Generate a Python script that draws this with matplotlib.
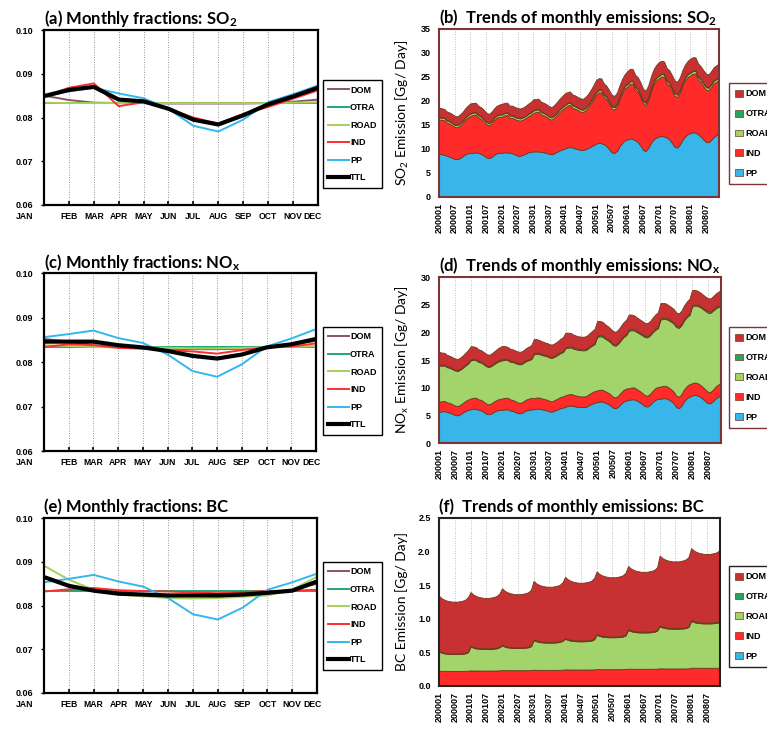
import numpy as np
import matplotlib.pyplot as plt
import matplotlib.transforms as mtrans
from matplotlib.patches import Patch

plt.rcParams['mathtext.default'] = 'regular'

# ---- data -------------------------------------------------------------
months = ['JAN', 'FEB', 'MAR', 'APR', 'MAY', 'JUN', 'JUL', 'AUG', 'SEP', 'OCT', 'NOV', 'DEC']
ym_labels = ['200001', '200007', '200101', '200107', '200201', '200207', '200301', '200307',
             '200401', '200407', '200501', '200507', '200601', '200607', '200701', '200707',
             '200801', '200807']

# monthly fractions, SO2
dom_a = [0.0850, 0.0840, 0.0834, 0.0833, 0.0833, 0.0832, 0.0832, 0.0832, 0.0832, 0.0833, 0.0836, 0.0841]
otra_a = [0.0833, 0.0833, 0.0833, 0.0833, 0.0833, 0.0833, 0.0833, 0.0833, 0.0833, 0.0833, 0.0833, 0.0833]
road_a = [0.0834, 0.0833, 0.0833, 0.0833, 0.0833, 0.0833, 0.0833, 0.0833, 0.0833, 0.0833, 0.0834, 0.0835]
ind_a = [0.0848, 0.0868, 0.0878, 0.0826, 0.0835, 0.0820, 0.0800, 0.0786, 0.0808, 0.0824, 0.0843, 0.0862]
pp_a = [0.0848, 0.0860, 0.0868, 0.0855, 0.0844, 0.0820, 0.0781, 0.0768, 0.0795, 0.0835, 0.0853, 0.0873]
ttl_a = [0.0849, 0.0863, 0.0870, 0.0841, 0.0837, 0.0820, 0.0795, 0.0784, 0.0805, 0.0830, 0.0848, 0.0868]

# monthly fractions, NOx
dom_c = [0.0852, 0.0846, 0.0838, 0.0834, 0.0832, 0.0830, 0.0829, 0.0829, 0.0830, 0.0833, 0.0839, 0.0848]
otra_c = [0.0834, 0.0834, 0.0834, 0.0834, 0.0834, 0.0834, 0.0834, 0.0834, 0.0834, 0.0834, 0.0834, 0.0834]
road_c = [0.0838, 0.0836, 0.0834, 0.0833, 0.0833, 0.0832, 0.0831, 0.0831, 0.0832, 0.0833, 0.0834, 0.0836]
ind_c = [0.0834, 0.0840, 0.0838, 0.0832, 0.0830, 0.0827, 0.0824, 0.0819, 0.0827, 0.0833, 0.0835, 0.0842]
pp_c = [0.0856, 0.0863, 0.0871, 0.0854, 0.0843, 0.0817, 0.0780, 0.0767, 0.0795, 0.0835, 0.0853, 0.0874]
ttl_c = [0.0846, 0.0846, 0.0846, 0.0838, 0.0833, 0.0825, 0.0814, 0.0808, 0.0817, 0.0833, 0.0840, 0.0852]

# monthly fractions, BC
dom_e = [0.0866, 0.0846, 0.0834, 0.0828, 0.0826, 0.0824, 0.0823, 0.0823, 0.0826, 0.0829, 0.0835, 0.0850]
otra_e = [0.0833, 0.0833, 0.0833, 0.0833, 0.0833, 0.0833, 0.0833, 0.0833, 0.0833, 0.0833, 0.0833, 0.0833]
road_e = [0.0891, 0.0859, 0.0836, 0.0825, 0.0821, 0.0817, 0.0816, 0.0817, 0.0820, 0.0823, 0.0836, 0.0866]
ind_e = [0.0832, 0.0837, 0.0840, 0.0835, 0.0833, 0.0832, 0.0830, 0.0828, 0.0831, 0.0833, 0.0834, 0.0836]
pp_e = [0.0853, 0.0861, 0.0870, 0.0855, 0.0843, 0.0817, 0.0780, 0.0768, 0.0795, 0.0836, 0.0853, 0.0873]
ttl_e = [0.0865, 0.0845, 0.0834, 0.0827, 0.0825, 0.0823, 0.0823, 0.0823, 0.0825, 0.0829, 0.0834, 0.0855]

# monthly emissions 2000-2008 [Gg/day], SO2
pp_so2 = [9.0, 8.9, 8.8, 8.6, 8.4, 8.2, 7.9, 7.9, 8.1, 8.5, 8.9, 9.1,
          9.2, 9.2, 9.3, 9.2, 9.0, 8.7, 8.3, 8.1, 8.3, 8.8, 9.1, 9.2,
          9.2, 9.3, 9.3, 9.2, 9.1, 8.9, 8.6, 8.6, 8.8, 9.0, 9.3, 9.4,
          9.5, 9.5, 9.5, 9.4, 9.3, 9.2, 9.0, 8.9, 9.1, 9.4, 9.7, 9.9,
          10.1, 10.3, 10.4, 10.3, 10.1, 10.0, 9.8, 9.8, 10.0, 10.2, 10.5, 10.8,
          11.1, 11.3, 11.2, 11.0, 10.6, 10.0, 9.3, 9.2, 9.6, 10.6, 11.3, 11.8,
          12.0, 12.2, 12.1, 11.8, 11.4, 10.7, 9.8, 9.6, 10.3, 11.3, 12.0, 12.4,
          12.6, 12.7, 12.6, 12.4, 12.0, 11.3, 10.5, 10.3, 10.9, 11.9, 12.6, 13.1,
          13.3, 13.5, 13.4, 13.1, 12.6, 12.0, 11.5, 11.4, 11.9, 12.5, 12.9, 13.2]
ind_so2 = [7.1, 7.2, 7.2, 6.9, 6.9, 6.8, 6.7, 6.6, 6.8, 6.9, 7.2, 7.5,
           7.7, 7.9, 7.9, 7.4, 7.3, 7.1, 6.9, 6.8, 7.0, 7.2, 7.4, 7.5,
           7.5, 7.7, 7.8, 7.3, 7.4, 7.3, 7.4, 7.3, 7.3, 7.4, 7.5, 7.7,
           8.0, 8.2, 8.3, 7.8, 7.7, 7.5, 7.3, 7.2, 7.4, 7.7, 8.0, 8.3,
           8.5, 8.7, 8.8, 8.3, 8.3, 8.1, 8.0, 7.9, 8.1, 8.5, 9.0, 9.6,
           10.2, 10.5, 10.6, 9.8, 9.7, 9.4, 9.1, 9.0, 9.3, 9.8, 10.4, 10.8,
           11.0, 11.4, 11.5, 10.6, 10.5, 10.1, 9.7, 9.5, 10.0, 10.8, 11.5, 11.9,
           12.1, 12.4, 12.4, 11.3, 11.2, 10.9, 10.6, 10.5, 10.8, 11.3, 11.7, 11.9,
           12.0, 12.2, 12.3, 11.4, 11.3, 11.1, 10.9, 10.8, 11.0, 11.2, 11.1, 11.2]
road_so2 = [0.46, 0.45, 0.45, 0.44, 0.44, 0.44, 0.44, 0.44, 0.44, 0.44, 0.45, 0.46,
            0.47, 0.46, 0.46, 0.45, 0.45, 0.45, 0.45, 0.45, 0.45, 0.45, 0.46, 0.47,
            0.48, 0.47, 0.47, 0.46, 0.46, 0.46, 0.46, 0.46, 0.46, 0.46, 0.47, 0.48,
            0.49, 0.48, 0.48, 0.47, 0.47, 0.47, 0.47, 0.47, 0.47, 0.47, 0.48, 0.49,
            0.50, 0.49, 0.49, 0.48, 0.48, 0.48, 0.48, 0.48, 0.48, 0.48, 0.49, 0.50,
            0.51, 0.50, 0.50, 0.49, 0.49, 0.49, 0.49, 0.49, 0.49, 0.49, 0.50, 0.51,
            0.52, 0.51, 0.51, 0.50, 0.50, 0.50, 0.50, 0.50, 0.50, 0.50, 0.51, 0.52,
            0.54, 0.53, 0.53, 0.52, 0.52, 0.52, 0.52, 0.52, 0.52, 0.52, 0.53, 0.54,
            0.56, 0.55, 0.55, 0.54, 0.54, 0.54, 0.54, 0.54, 0.54, 0.54, 0.55, 0.56]
otra_so2 = [0.08, 0.08, 0.08, 0.08, 0.08, 0.08, 0.08, 0.08, 0.08, 0.08, 0.08, 0.08,
            0.08, 0.08, 0.08, 0.08, 0.08, 0.08, 0.08, 0.08, 0.08, 0.08, 0.08, 0.08,
            0.09, 0.09, 0.09, 0.09, 0.09, 0.09, 0.09, 0.09, 0.09, 0.09, 0.09, 0.09,
            0.09, 0.09, 0.09, 0.09, 0.09, 0.09, 0.09, 0.09, 0.09, 0.09, 0.09, 0.09,
            0.10, 0.10, 0.10, 0.10, 0.10, 0.10, 0.10, 0.10, 0.10, 0.10, 0.10, 0.10,
            0.10, 0.10, 0.10, 0.10, 0.10, 0.10, 0.10, 0.10, 0.10, 0.10, 0.10, 0.10,
            0.11, 0.11, 0.11, 0.11, 0.11, 0.11, 0.11, 0.11, 0.11, 0.11, 0.11, 0.11,
            0.11, 0.11, 0.11, 0.11, 0.11, 0.11, 0.11, 0.11, 0.11, 0.11, 0.11, 0.11,
            0.12, 0.12, 0.12, 0.12, 0.12, 0.12, 0.12, 0.12, 0.12, 0.12, 0.12, 0.12]
dom_so2 = [1.95, 1.85, 1.80, 1.78, 1.78, 1.78, 1.78, 1.78, 1.78, 1.80, 1.85, 1.90,
           2.05, 1.95, 1.90, 1.88, 1.88, 1.88, 1.88, 1.88, 1.88, 1.90, 1.95, 2.00,
           2.15, 2.05, 2.00, 1.98, 1.98, 1.98, 1.98, 1.98, 1.98, 2.00, 2.05, 2.10,
           2.25, 2.15, 2.10, 2.07, 2.07, 2.07, 2.07, 2.07, 2.07, 2.10, 2.15, 2.20,
           2.35, 2.25, 2.20, 2.17, 2.17, 2.17, 2.17, 2.17, 2.17, 2.20, 2.25, 2.30,
           2.45, 2.35, 2.30, 2.27, 2.27, 2.27, 2.27, 2.27, 2.27, 2.30, 2.35, 2.40,
           2.60, 2.50, 2.45, 2.42, 2.42, 2.42, 2.42, 2.42, 2.42, 2.45, 2.50, 2.55,
           2.75, 2.65, 2.60, 2.57, 2.57, 2.57, 2.57, 2.57, 2.57, 2.60, 2.65, 2.70,
           2.85, 2.75, 2.70, 2.67, 2.67, 2.67, 2.67, 2.67, 2.67, 2.70, 2.75, 2.80]

# monthly emissions, NOx
pp_nox = [5.7, 5.7, 5.8, 5.6, 5.5, 5.3, 5.1, 5.0, 5.2, 5.5, 5.8, 6.0,
          6.1, 6.2, 6.2, 6.0, 5.9, 5.6, 5.3, 5.2, 5.4, 5.7, 5.9, 6.0,
          6.0, 6.1, 6.1, 5.9, 5.8, 5.6, 5.4, 5.4, 5.6, 5.9, 6.0, 6.1,
          6.1, 6.2, 6.2, 6.1, 6.0, 5.9, 5.7, 5.7, 5.9, 6.1, 6.3, 6.4,
          6.6, 6.7, 6.8, 6.7, 6.6, 6.5, 6.5, 6.5, 6.6, 6.9, 7.1, 7.3,
          7.4, 7.5, 7.5, 7.3, 7.1, 6.8, 6.4, 6.3, 6.6, 7.1, 7.5, 7.7,
          7.8, 7.9, 7.9, 7.7, 7.4, 7.1, 6.7, 6.6, 6.9, 7.4, 7.8, 8.0,
          8.0, 8.1, 8.1, 7.9, 7.6, 7.2, 6.5, 6.3, 6.8, 7.6, 8.1, 8.4,
          8.6, 8.7, 8.6, 8.4, 8.0, 7.6, 7.2, 7.2, 7.6, 8.1, 8.4, 8.6]
ind_nox = [1.80, 1.82, 1.82, 1.76, 1.74, 1.72, 1.68, 1.66, 1.70, 1.74, 1.80, 1.86,
           1.95, 1.98, 1.98, 1.90, 1.88, 1.85, 1.80, 1.78, 1.82, 1.86, 1.92, 1.98,
           2.05, 2.08, 2.08, 2.00, 1.98, 1.95, 1.90, 1.88, 1.92, 1.96, 2.02, 2.06,
           2.00, 2.02, 2.02, 1.96, 1.94, 1.92, 1.88, 1.86, 1.90, 1.94, 2.00, 2.04,
           2.05, 2.08, 2.08, 2.00, 1.98, 1.96, 1.92, 1.90, 1.94, 1.98, 2.04, 2.08,
           2.10, 2.14, 2.14, 2.06, 2.04, 2.00, 1.96, 1.94, 1.98, 2.04, 2.10, 2.14,
           2.10, 2.14, 2.14, 2.06, 2.04, 2.00, 1.96, 1.94, 1.98, 2.04, 2.10, 2.14,
           2.20, 2.24, 2.24, 2.16, 2.14, 2.10, 2.06, 2.04, 2.08, 2.14, 2.20, 2.24,
           2.20, 2.24, 2.24, 2.16, 2.14, 2.10, 2.06, 2.04, 2.08, 2.14, 2.20, 2.24]
road_nox = [6.50, 6.45, 6.40, 6.35, 6.35, 6.35, 6.35, 6.35, 6.35, 6.35, 6.40, 6.50,
            6.90, 6.85, 6.80, 6.75, 6.75, 6.75, 6.75, 6.75, 6.75, 6.75, 6.80, 6.85,
            6.90, 6.85, 6.80, 6.80, 6.85, 6.90, 6.95, 6.95, 6.95, 6.95, 6.95, 7.00,
            7.95, 7.90, 7.85, 7.85, 7.85, 7.85, 7.85, 7.85, 7.85, 7.90, 7.95, 8.00,
            8.50, 8.45, 8.40, 8.35, 8.35, 8.35, 8.35, 8.35, 8.35, 8.40, 8.45, 8.50,
            9.70, 9.65, 9.60, 9.50, 9.45, 9.40, 9.35, 9.35, 9.40, 9.45, 9.55, 9.65,
            10.40, 10.35, 10.30, 10.30, 10.35, 10.40, 10.50, 10.55, 10.55, 10.55, 10.55, 10.60,
            12.10, 12.10, 12.10, 12.15, 12.20, 12.30, 12.40, 12.45, 12.45, 12.45, 12.45, 12.50,
            13.90, 13.90, 13.95, 14.00, 14.10, 14.20, 14.30, 14.30, 14.25, 14.10, 14.00, 13.90]
otra_nox = [0.18, 0.18, 0.18, 0.18, 0.18, 0.18, 0.18, 0.18, 0.18, 0.18, 0.18, 0.18,
            0.19, 0.19, 0.19, 0.19, 0.19, 0.19, 0.19, 0.19, 0.19, 0.19, 0.19, 0.19,
            0.19, 0.19, 0.19, 0.19, 0.19, 0.19, 0.19, 0.19, 0.19, 0.19, 0.19, 0.19,
            0.20, 0.20, 0.20, 0.20, 0.20, 0.20, 0.20, 0.20, 0.20, 0.20, 0.20, 0.20,
            0.21, 0.21, 0.21, 0.21, 0.21, 0.21, 0.21, 0.21, 0.21, 0.21, 0.21, 0.21,
            0.22, 0.22, 0.22, 0.22, 0.22, 0.22, 0.22, 0.22, 0.22, 0.22, 0.22, 0.22,
            0.23, 0.23, 0.23, 0.23, 0.23, 0.23, 0.23, 0.23, 0.23, 0.23, 0.23, 0.23,
            0.24, 0.24, 0.24, 0.24, 0.24, 0.24, 0.24, 0.24, 0.24, 0.24, 0.24, 0.24,
            0.25, 0.25, 0.25, 0.25, 0.25, 0.25, 0.25, 0.25, 0.25, 0.25, 0.25, 0.25]
dom_nox = [2.30, 2.20, 2.10, 2.05, 2.00, 1.98, 1.98, 1.98, 2.00, 2.05, 2.15, 2.25,
           2.35, 2.25, 2.15, 2.10, 2.05, 2.03, 2.03, 2.03, 2.05, 2.10, 2.20, 2.30,
           2.40, 2.30, 2.20, 2.15, 2.10, 2.08, 2.08, 2.08, 2.10, 2.15, 2.25, 2.35,
           2.55, 2.45, 2.35, 2.28, 2.22, 2.20, 2.20, 2.20, 2.22, 2.28, 2.38, 2.48,
           2.60, 2.50, 2.40, 2.33, 2.27, 2.25, 2.25, 2.25, 2.27, 2.33, 2.43, 2.53,
           2.65, 2.55, 2.45, 2.38, 2.32, 2.30, 2.30, 2.30, 2.32, 2.38, 2.48, 2.58,
           2.70, 2.60, 2.50, 2.43, 2.37, 2.35, 2.35, 2.35, 2.37, 2.43, 2.53, 2.63,
           2.75, 2.65, 2.55, 2.48, 2.42, 2.40, 2.40, 2.40, 2.42, 2.48, 2.58, 2.68,
           2.70, 2.60, 2.50, 2.43, 2.37, 2.35, 2.35, 2.35, 2.37, 2.43, 2.53, 2.60]

# monthly emissions, BC
pp_bc = [0.005, 0.005, 0.005, 0.005, 0.005, 0.005, 0.005, 0.005, 0.005, 0.005, 0.005, 0.005,
         0.005, 0.005, 0.005, 0.005, 0.005, 0.005, 0.005, 0.005, 0.005, 0.005, 0.005, 0.005,
         0.005, 0.005, 0.005, 0.005, 0.005, 0.005, 0.005, 0.005, 0.005, 0.005, 0.005, 0.005,
         0.005, 0.005, 0.005, 0.005, 0.005, 0.005, 0.005, 0.005, 0.005, 0.005, 0.005, 0.005,
         0.005, 0.005, 0.005, 0.005, 0.005, 0.005, 0.005, 0.005, 0.005, 0.005, 0.005, 0.005,
         0.005, 0.005, 0.005, 0.005, 0.005, 0.005, 0.005, 0.005, 0.005, 0.005, 0.005, 0.005,
         0.006, 0.006, 0.006, 0.006, 0.006, 0.006, 0.006, 0.006, 0.006, 0.006, 0.006, 0.006,
         0.006, 0.006, 0.006, 0.006, 0.006, 0.006, 0.006, 0.006, 0.006, 0.006, 0.006, 0.006,
         0.006, 0.006, 0.006, 0.006, 0.006, 0.006, 0.006, 0.006, 0.006, 0.006, 0.006, 0.006]
ind_bc = [0.222, 0.221, 0.220, 0.220, 0.220, 0.220, 0.220, 0.220, 0.220, 0.220, 0.221, 0.222,
          0.227, 0.226, 0.225, 0.225, 0.225, 0.225, 0.225, 0.225, 0.225, 0.225, 0.226, 0.227,
          0.232, 0.231, 0.230, 0.230, 0.230, 0.230, 0.230, 0.230, 0.230, 0.230, 0.231, 0.232,
          0.237, 0.236, 0.235, 0.235, 0.235, 0.235, 0.235, 0.235, 0.235, 0.235, 0.236, 0.237,
          0.242, 0.241, 0.240, 0.240, 0.240, 0.240, 0.240, 0.240, 0.240, 0.240, 0.241, 0.242,
          0.247, 0.246, 0.245, 0.245, 0.245, 0.245, 0.245, 0.245, 0.245, 0.245, 0.246, 0.247,
          0.252, 0.251, 0.250, 0.250, 0.250, 0.250, 0.250, 0.250, 0.250, 0.250, 0.251, 0.252,
          0.257, 0.256, 0.255, 0.255, 0.255, 0.255, 0.255, 0.255, 0.255, 0.255, 0.256, 0.257,
          0.267, 0.266, 0.265, 0.265, 0.265, 0.265, 0.265, 0.265, 0.265, 0.265, 0.266, 0.267]
road_bc = [0.285, 0.270, 0.260, 0.255, 0.252, 0.250, 0.250, 0.250, 0.252, 0.255, 0.260, 0.275,
           0.355, 0.340, 0.330, 0.325, 0.322, 0.320, 0.320, 0.320, 0.322, 0.325, 0.330, 0.345,
           0.365, 0.350, 0.340, 0.335, 0.332, 0.330, 0.330, 0.330, 0.332, 0.335, 0.340, 0.355,
           0.440, 0.425, 0.415, 0.410, 0.407, 0.405, 0.405, 0.405, 0.407, 0.410, 0.415, 0.430,
           0.455, 0.440, 0.430, 0.425, 0.422, 0.420, 0.420, 0.420, 0.422, 0.425, 0.430, 0.445,
           0.510, 0.495, 0.485, 0.480, 0.477, 0.475, 0.475, 0.475, 0.477, 0.480, 0.485, 0.500,
           0.575, 0.560, 0.550, 0.545, 0.542, 0.540, 0.540, 0.540, 0.542, 0.545, 0.550, 0.565,
           0.625, 0.610, 0.600, 0.595, 0.592, 0.590, 0.590, 0.590, 0.592, 0.595, 0.600, 0.615,
           0.695, 0.680, 0.670, 0.665, 0.662, 0.660, 0.660, 0.660, 0.662, 0.665, 0.670, 0.685]
otra_bc = [0.010, 0.010, 0.010, 0.010, 0.010, 0.010, 0.010, 0.010, 0.010, 0.010, 0.010, 0.010,
           0.011, 0.011, 0.011, 0.011, 0.011, 0.011, 0.011, 0.011, 0.011, 0.011, 0.011, 0.011,
           0.011, 0.011, 0.011, 0.011, 0.011, 0.011, 0.011, 0.011, 0.011, 0.011, 0.011, 0.011,
           0.012, 0.012, 0.012, 0.012, 0.012, 0.012, 0.012, 0.012, 0.012, 0.012, 0.012, 0.012,
           0.012, 0.012, 0.012, 0.012, 0.012, 0.012, 0.012, 0.012, 0.012, 0.012, 0.012, 0.012,
           0.013, 0.013, 0.013, 0.013, 0.013, 0.013, 0.013, 0.013, 0.013, 0.013, 0.013, 0.013,
           0.013, 0.013, 0.013, 0.013, 0.013, 0.013, 0.013, 0.013, 0.013, 0.013, 0.013, 0.013,
           0.013, 0.013, 0.013, 0.013, 0.013, 0.013, 0.013, 0.013, 0.013, 0.013, 0.013, 0.013,
           0.014, 0.014, 0.014, 0.014, 0.014, 0.014, 0.014, 0.014, 0.014, 0.014, 0.014, 0.014]
dom_bc = [0.820, 0.800, 0.790, 0.780, 0.775, 0.770, 0.770, 0.770, 0.775, 0.780, 0.790, 0.810,
          0.800, 0.780, 0.770, 0.760, 0.755, 0.750, 0.750, 0.750, 0.755, 0.760, 0.770, 0.790,
          0.840, 0.820, 0.810, 0.800, 0.795, 0.790, 0.790, 0.790, 0.795, 0.800, 0.810, 0.830,
          0.870, 0.850, 0.840, 0.830, 0.825, 0.820, 0.820, 0.820, 0.825, 0.830, 0.840, 0.860,
          0.910, 0.890, 0.880, 0.870, 0.865, 0.860, 0.860, 0.860, 0.865, 0.870, 0.880, 0.900,
          0.930, 0.910, 0.900, 0.890, 0.885, 0.880, 0.880, 0.880, 0.885, 0.890, 0.900, 0.920,
          0.940, 0.920, 0.910, 0.900, 0.895, 0.890, 0.890, 0.890, 0.895, 0.900, 0.910, 0.930,
          1.040, 1.020, 1.010, 1.000, 0.995, 0.990, 0.990, 0.990, 0.995, 1.000, 1.010, 1.030,
          1.070, 1.050, 1.040, 1.030, 1.025, 1.020, 1.020, 1.020, 1.025, 1.030, 1.040, 1.060]

# ---- style -------------------------------------------------------------
line_col = {'DOM': '#8a5563', 'OTRA': '#1fa873', 'ROAD': '#a9cf5c', 'IND': '#ff2d2d',
            'PP': '#33b7ec', 'TTL': '#000000'}
area_col = {'DOM': '#c73131', 'OTRA': '#27a45e', 'ROAD': '#a3d36b', 'IND': '#ff2b2b',
            'PP': '#38b5e9'}
edge_col = '#6e3a1c'
tick_font = dict(family='Liberation Sans', weight='bold', size=6.5)
month_font = dict(family='Liberation Sans', weight='bold', size=6.2)
title_font = dict(family='Lato', weight='bold', size=12)

fig = plt.figure(figsize=(7.67, 7.29), dpi=100)


def frac_panel(pos, title, series, leg_top):
    ax = fig.add_axes(pos)
    x = np.arange(12)
    for name, vals in series:
        ax.plot(x, vals, color=line_col[name], lw=3.0 if name == 'TTL' else 1.4, label=name)
    ax.set_xlim(0, 11)
    ax.set_ylim(0.06, 0.10)
    for xv in range(1, 11):
        ax.axvline(xv, color='#777777', ls=(0, (1, 2)), lw=0.6, zorder=0)
    ax.set_xticks(x)
    ax.set_xticklabels(months, fontdict=month_font)
    ax.set_yticks([0.06, 0.07, 0.08, 0.09, 0.10])
    ax.set_yticklabels(['%.2f' % v for v in [0.06, 0.07, 0.08, 0.09, 0.10]], fontdict=tick_font)
    ax.tick_params(axis='x', direction='in', length=3, width=1.2, pad=5)
    ax.tick_params(axis='y', direction='out', length=2, width=1, pad=6)
    # first and last month labels sit a little to the left in the original
    labs = ax.get_xticklabels()
    labs[0].set_transform(labs[0].get_transform() + mtrans.ScaledTranslation(-0.19, 0, fig.dpi_scale_trans))
    labs[-1].set_transform(labs[-1].get_transform() + mtrans.ScaledTranslation(-0.05, 0, fig.dpi_scale_trans))
    for s in ax.spines.values():
        s.set_linewidth(1.6)
        s.set_color('black')
    ax.set_title(title, loc='left', pad=4, fontdict=title_font)
    leg = ax.legend(loc='upper left', bbox_to_anchor=(323 / 767, leg_top), bbox_transform=fig.transFigure,
                    prop=tick_font, frameon=True, fancybox=False, framealpha=1, edgecolor='black',
                    handlelength=2.3, handletextpad=0.1, labelspacing=0.95, borderpad=0.6,
                    borderaxespad=0)
    leg.get_frame().set_linewidth(1.0)
    return ax


def trend_panel(pos, title, stacks, ymax, ystep, yfmt, ylabel, spine_col, leg_top):
    ax = fig.add_axes(pos)
    x = np.arange(108)
    names = ['PP', 'IND', 'ROAD', 'OTRA', 'DOM']
    polys = ax.stackplot(x, *stacks, colors=[area_col[n] for n in names], zorder=2)
    for p in polys:
        p.set_edgecolor(edge_col)
        p.set_linewidth(0.6)
    ax.set_xlim(0, 107)
    ax.set_ylim(0, ymax)
    for xv in np.arange(6, 107, 6):
        ax.axvline(xv, color='#aaaaaa', ls=(0, (1, 2)), lw=0.6, zorder=1)
    ax.set_xticks(np.arange(0, 108, 6))
    ax.set_xticklabels(ym_labels, fontdict=tick_font, rotation=90)
    yt = np.arange(0, ymax + ystep / 2, ystep)
    ax.set_yticks(yt)
    ax.set_yticklabels([yfmt % v for v in yt], fontdict=tick_font)
    ax.tick_params(axis='x', direction='in', length=3, width=1.2, pad=4)
    ax.tick_params(axis='y', direction='out', length=0, pad=6)
    for s in ax.spines.values():
        s.set_linewidth(1.5)
        s.set_color(spine_col)
        s.set_zorder(5)
    ax.set_ylabel(ylabel, family='Lato', size=10, labelpad=7)
    ax.set_title(title, loc='left', pad=4, fontdict=title_font)
    handles = [Patch(facecolor=area_col[n], edgecolor=edge_col, lw=0.5) for n in names[::-1]]
    leg = ax.legend(handles, names[::-1], loc='upper left', bbox_to_anchor=(729 / 767, leg_top),
                    bbox_transform=fig.transFigure, prop=tick_font, frameon=True, fancybox=False,
                    framealpha=1, edgecolor=spine_col, handlelength=0.8, handleheight=0.8,
                    handletextpad=0.3, labelspacing=1.2, borderpad=0.7, borderaxespad=0)
    leg.get_frame().set_linewidth(1.0)
    return ax


frac_panel([0.0574, 0.7188, 0.357, 0.240], '(a) Monthly fractions: SO$_2$',
           [('DOM', dom_a), ('OTRA', otra_a), ('ROAD', road_a), ('IND', ind_a), ('PP', pp_a), ('TTL', ttl_a)],
           0.890)
frac_panel([0.0574, 0.3813, 0.3546, 0.244], '(c) Monthly fractions: NO$_x$',
           [('DOM', dom_c), ('OTRA', otra_c), ('ROAD', road_c), ('IND', ind_c), ('PP', pp_c), ('TTL', ttl_c)],
           0.5514)
frac_panel([0.0574, 0.0494, 0.356, 0.240], '(e) Monthly fractions: BC',
           [('DOM', dom_e), ('OTRA', otra_e), ('ROAD', road_e), ('IND', ind_e), ('PP', pp_e), ('TTL', ttl_e)],
           0.229)

trend_panel([0.5724, 0.7298, 0.365, 0.2305], '(b)  Trends of monthly emissions: SO$_2$',
            [pp_so2, ind_so2, road_so2, otra_so2, dom_so2], 35, 5, '%d',
            'SO$_2$ Emission [Gg/ Day]', '#7b3535', 0.886)
trend_panel([0.5724, 0.3923, 0.3677, 0.2277], '(d)  Trends of monthly emissions: NO$_x$',
            [pp_nox, ind_nox, road_nox, otra_nox, dom_nox], 30, 5, '%d',
            'NO$_x$ Emission [Gg/ Day]', '#7b3535', 0.5514)
trend_panel([0.5724, 0.0590, 0.3664, 0.2305], '(f)  Trends of monthly emissions: BC',
            [pp_bc, ind_bc, road_bc, otra_bc, dom_bc], 2.5, 0.5, '%.1f',
            'BC Emission [Gg/ Day]', '#222222', 0.2236)

fig.savefig('out.png', dpi=100)
